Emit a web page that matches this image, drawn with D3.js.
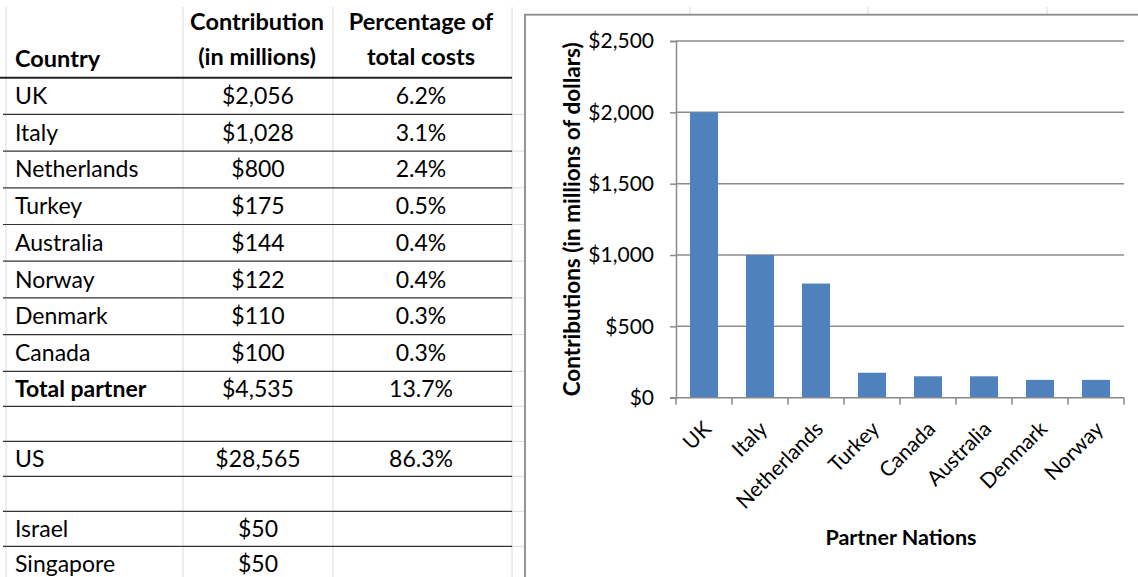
<!DOCTYPE html>
<html>
<head>
<meta charset="utf-8">
<script src="https://cdn.jsdelivr.net/npm/d3@7"></script>
<style>
  body { margin: 0; background: #fff; }
  svg { display: block; font-family: Lato, "Open Sans", sans-serif; }
</style>
</head>
<body>
<svg id="chart" width="1138" height="577"></svg>
<script>
// table data
var tableCountries = ["UK", "Italy", "Netherlands", "Turkey", "Australia", "Norway", "Denmark", "Canada"];
var tableContrib = [2056, 1028, 800, 175, 144, 122, 110, 100];
var tablePct = [6.2, 3.1, 2.4, 0.5, 0.4, 0.4, 0.3, 0.3];
var totalRow = ["Total partner", 4535, 13.7];
var usRow = ["US", 28565, 86.3];
var otherCountries = ["Israel", "Singapore"];
var otherContrib = [50, 50];

// chart data
var nations = ["UK", "Italy", "Netherlands", "Turkey", "Canada", "Australia", "Denmark", "Norway"];
var nationValues = [2000, 1000, 800, 175, 150, 150, 125, 125];
var yTicks = [0, 500, 1000, 1500, 2000, 2500];

var svg = d3.select("#chart");
var money = d3.format("$,");
var pct = function(v) { return d3.format(".1f")(v) + "%"; };

// build rows of the table
var rows = [];
tableCountries.forEach(function(c, i) {
    rows.push({name: c, contrib: money(tableContrib[i]), pct: pct(tablePct[i]), h: 36.7});
});
rows.push({name: totalRow[0], contrib: money(totalRow[1]), pct: pct(totalRow[2]), h: 35, bold: true});
rows.push({name: "", contrib: "", pct: "", h: 35});
rows.push({name: usRow[0], contrib: money(usRow[1]), pct: pct(usRow[2]), h: 35});
rows.push({name: "", contrib: "", pct: "", h: 35});
otherCountries.forEach(function(c, i) {
    rows.push({name: c, contrib: money(otherContrib[i]), pct: "", h: 35});
});
var y0 = 77.7;
rows.forEach(function(r) { r.top = y0; y0 += r.h; r.bottom = y0; });

var table = svg.append("g");

// excel gridlines (light)
var colX = [6, 183, 333, 512];
table.selectAll("line.vgrid").data(colX).enter().append("line")
    .attr("x1", function(d) { return d; }).attr("x2", function(d) { return d; })
    .attr("y1", 7).attr("y2", 577)
    .attr("stroke", "#dadada").attr("stroke-width", 1);
// light gridlines above the chart
table.selectAll("line.vgrid2").data([690, 868, 1047]).enter().append("line")
    .attr("x1", function(d) { return d; }).attr("x2", function(d) { return d; })
    .attr("y1", 7).attr("y2", 15)
    .attr("stroke", "#dadada");
table.selectAll("line.hgrid").data(rows).enter().append("line")
    .attr("x1", 512).attr("x2", 525)
    .attr("y1", function(d) { return d.bottom; }).attr("y2", function(d) { return d.bottom; })
    .attr("stroke", "#dadada");

// header
var head = table.append("g").attr("font-weight", "bold").attr("font-size", 23.5).attr("fill", "#000");
head.append("text").attr("x", 15).attr("y", 67).text("Country");
head.append("text").attr("x", 257).attr("y", 30).attr("text-anchor", "middle").text("Contribution");
head.append("text").attr("x", 257).attr("y", 65).attr("text-anchor", "middle").text("(in millions)");
head.append("text").attr("x", 421).attr("y", 30).attr("text-anchor", "middle").text("Percentage of");
head.append("text").attr("x", 421).attr("y", 65).attr("text-anchor", "middle").text("total costs");

table.append("line").attr("x1", 0).attr("x2", 512).attr("y1", 77.7).attr("y2", 77.7)
    .attr("stroke", "#222").attr("stroke-width", 2);

table.selectAll("line.row").data(rows).enter().append("line")
    .attr("x1", 3).attr("x2", 512)
    .attr("y1", function(d) { return d.bottom; }).attr("y2", function(d) { return d.bottom; })
    .attr("stroke", "#333").attr("stroke-width", 1.2);

var cells = table.selectAll("g.row").data(rows).enter().append("g")
    .attr("font-size", 23).attr("fill", "#000")
    .attr("font-weight", function(d) { return d.bold ? "bold" : "normal"; });
cells.append("text").attr("x", 15).attr("y", function(d) { return (d.top + d.bottom) / 2 + 8; })
    .text(function(d) { return d.name; });
cells.append("text").attr("x", 258).attr("text-anchor", "middle").attr("font-weight", "normal")
    .attr("y", function(d) { return (d.top + d.bottom) / 2 + 8; })
    .text(function(d) { return d.contrib; });
cells.append("text").attr("x", 421).attr("text-anchor", "middle").attr("font-weight", "normal")
    .attr("y", function(d) { return (d.top + d.bottom) / 2 + 8; })
    .text(function(d) { return d.pct; });

// chart area
svg.append("rect").attr("x", 525).attr("y", 14.7).attr("width", 640).attr("height", 600)
    .attr("fill", "#fff").attr("stroke", "#8a8a8a").attr("stroke-width", 1.8);

var x = d3.scaleBand().domain(nations).range([676, 1124]).paddingInner(0.5).paddingOuter(0.25);
var y = d3.scaleLinear().domain([0, 2500]).range([397.7, 41]);

var plot = svg.append("g");

// gridlines
plot.selectAll("line.grid").data(yTicks.slice(1)).enter().append("line")
    .attr("x1", 676).attr("x2", 1124)
    .attr("y1", function(d) { return y(d); }).attr("y2", function(d) { return y(d); })
    .attr("stroke", "#8c8c8c").attr("stroke-width", 1.5);

// bars
plot.selectAll("rect.bar").data(nations).enter().append("rect")
    .attr("x", function(d) { return x(d); })
    .attr("width", x.bandwidth())
    .attr("y", function(d, i) { return y(nationValues[i]); })
    .attr("height", function(d, i) { return y(0) - y(nationValues[i]); })
    .attr("fill", "#4f81bd");

// y axis
var yAxis = plot.append("g").attr("transform", "translate(676,0)")
    .call(d3.axisLeft(y).tickValues(yTicks).tickFormat(money).tickSize(6).tickPadding(16));
yAxis.select(".domain").attr("stroke", "#8a8a8a").attr("stroke-width", 1.5);
yAxis.selectAll(".tick line").attr("stroke", "#8a8a8a").attr("stroke-width", 1.5);
yAxis.selectAll(".tick text").attr("font-size", 21).attr("font-family", "Lato").attr("fill", "#000");

// x axis (category boundaries as ticks)
var xline = plot.append("g");
xline.append("line").attr("x1", 670).attr("x2", 1124).attr("y1", y(0)).attr("y2", y(0))
    .attr("stroke", "#8a8a8a").attr("stroke-width", 1.5);
var bounds = nations.map(function(d) { return x(d) - x.step() * 0.25; }).concat([1124]);
xline.selectAll("line.t").data(bounds).enter().append("line")
    .attr("x1", function(d) { return d; }).attr("x2", function(d) { return d; })
    .attr("y1", y(0)).attr("y2", y(0) + 7)
    .attr("stroke", "#8a8a8a").attr("stroke-width", 1.5);

xline.selectAll("text.lab").data(nations).enter().append("text")
    .attr("transform", function(d) {
        return "translate(" + (x(d) + x.bandwidth() / 2 - 2) + "," + (y(0) + 22) + ") rotate(-45)";
    })
    .attr("text-anchor", "end").attr("dy", "0.71em").attr("font-size", 21).attr("fill", "#000")
    .text(function(d) { return d; });

// axis titles
svg.append("text").attr("x", 901).attr("y", 545).attr("text-anchor", "middle")
    .attr("font-weight", "bold").attr("font-size", 21.5).text("Partner Nations");
svg.append("text").attr("transform", "translate(580," + ((y(0) + y(2500)) / 2) + ") rotate(-90)")
    .attr("text-anchor", "middle").attr("font-weight", "bold").attr("font-size", 22.5)
    .text("Contributions (in millions of dollars)");
</script>
</body>
</html>
